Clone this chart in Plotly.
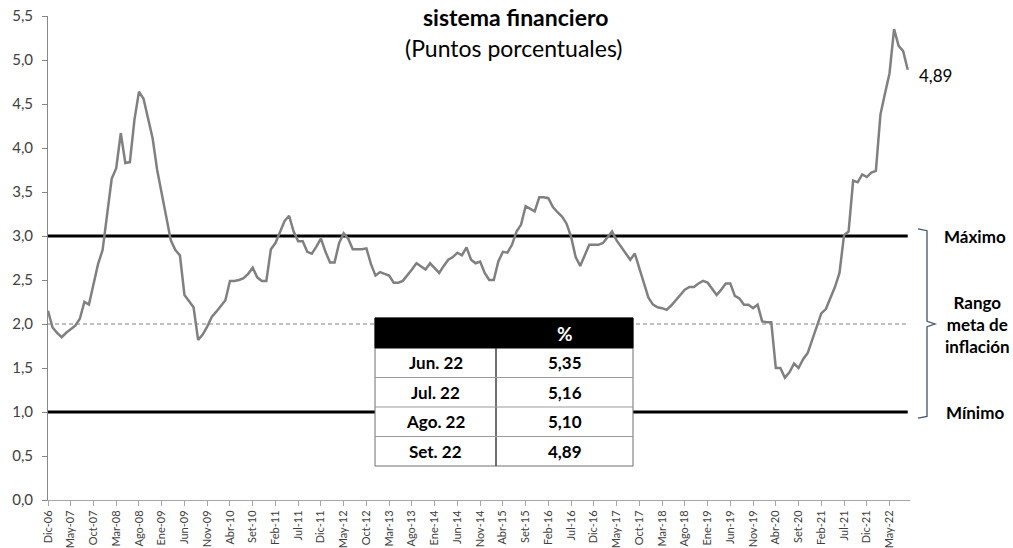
import plotly.graph_objects as go

# ---------------- data ----------------
month_abbr = ["Ene", "Feb", "Mar", "Abr", "May", "Jun", "Jul", "Ago", "Set", "Oct", "Nov", "Dic"]
# monthly categories Dic-06 ... Set-22
categories = [f"{month_abbr[(11 + i) % 12]}-{(6 + (11 + i) // 12):02d}" for i in range(190)]

expectativas = [
    2.15, 1.96, 1.90, 1.85, 1.90, 1.94, 1.98, 2.06, 2.25, 2.22,
    2.46, 2.68, 2.84, 3.25, 3.65, 3.77, 4.17, 3.83, 3.84, 4.32,
    4.64, 4.56, 4.32, 4.11, 3.75, 3.48, 3.20, 2.95, 2.84, 2.78,
    2.33, 2.26, 2.19, 1.82, 1.88, 1.97, 2.08, 2.14, 2.20, 2.27,
    2.49, 2.49, 2.50, 2.52, 2.57, 2.64, 2.53, 2.49, 2.49, 2.85,
    2.92, 3.05, 3.17, 3.23, 3.05, 2.94, 2.94, 2.82, 2.80, 2.88,
    2.97, 2.82, 2.70, 2.70, 2.92, 3.03, 2.97, 2.85, 2.85, 2.85,
    2.86, 2.68, 2.55, 2.59, 2.57, 2.55, 2.47, 2.47, 2.49, 2.55,
    2.62, 2.69, 2.65, 2.62, 2.69, 2.63, 2.58, 2.66, 2.73, 2.76,
    2.81, 2.78, 2.87, 2.73, 2.69, 2.71, 2.58, 2.50, 2.50, 2.71,
    2.82, 2.81, 2.90, 3.05, 3.13, 3.34, 3.31, 3.28, 3.44, 3.44,
    3.43, 3.33, 3.27, 3.22, 3.14, 2.99, 2.76, 2.66, 2.78, 2.90,
    2.90, 2.90, 2.92, 2.98, 3.05, 2.95, 2.88, 2.80, 2.73, 2.80,
    2.63, 2.46, 2.30, 2.22, 2.19, 2.18, 2.16, 2.21, 2.27, 2.33,
    2.39, 2.42, 2.42, 2.46, 2.49, 2.47, 2.40, 2.33, 2.39, 2.46,
    2.46, 2.32, 2.29, 2.22, 2.22, 2.18, 2.22, 2.03, 2.02, 2.02,
    1.50, 1.50, 1.39, 1.45, 1.55, 1.50, 1.60, 1.67, 1.82, 1.97,
    2.12, 2.17, 2.29, 2.42, 2.58, 3.01, 3.05, 3.63, 3.61, 3.70,
    3.67, 3.72, 3.74, 4.38, 4.62, 4.85, 5.35, 5.16, 5.10, 4.89,
]

rango_max = 3.0
rango_min = 1.0
meta = 2.0

tick_labels = [
    "Dic-06", "May-07", "Oct-07", "Mar-08", "Ago-08", "Ene-09", "Jun-09", "Nov-09",
    "Abr-10", "Set-10", "Feb-11", "Jul-11", "Dic-11", "May-12", "Oct-12", "Mar-13",
    "Ago-13", "Ene-14", "Jun-14", "Nov-14", "Abr-15", "Set-15", "Feb-16", "Jul-16",
    "Dic-16", "May-17", "Oct-17", "Mar-18", "Ago-18", "Ene-19", "Jun-19", "Nov-19",
    "Abr-20", "Set-20", "Feb-21", "Jul-21", "Dic-21", "May-22",
]
y_ticks = [0.0, 0.5, 1.0, 1.5, 2.0, 2.5, 3.0, 3.5, 4.0, 4.5, 5.0, 5.5]

table_header = "%"
table_months = ["Jun. 22", "Jul. 22", "Ago. 22", "Set. 22"]
table_values = expectativas[-4:]

# ---------------- figure ----------------
FONT = "Lato, 'Open Sans', sans-serif"
W, H = 1013, 548
L, R, T, B = 48, 103, 16, 48
PW, PH = W - L - R, H - T - B


def px_x(px):
    return (px - L) / PW


def px_y(py):
    return (H - B - py) / PH


def fmt(v, d=2):
    return f"{v:.{d}f}".replace(".", ",")


fig = go.Figure()

fig.add_trace(go.Scatter(x=categories, y=[meta] * len(categories), mode="lines",
                         line=dict(color="#808080", width=1, dash="4px,3px"),
                         hoverinfo="skip", showlegend=False))
fig.add_trace(go.Scatter(x=categories, y=[rango_max] * len(categories), mode="lines",
                         line=dict(color="black", width=3), hoverinfo="skip", showlegend=False))
fig.add_trace(go.Scatter(x=categories, y=[rango_min] * len(categories), mode="lines",
                         line=dict(color="black", width=3), hoverinfo="skip", showlegend=False))
fig.add_trace(go.Scatter(x=categories, y=expectativas, mode="lines",
                         line=dict(color="#808080", width=2.5), showlegend=False))

# ---- table drawn with shapes/annotations ----
tx0, tx1, tdiv = 375, 633, 496
ty0, thead, trow = 318, 30, 29.5
ty_end = ty0 + thead + trow * len(table_months)
fig.add_shape(type="rect", xref="paper", yref="paper", layer="above",
              x0=px_x(tx0), x1=px_x(tx1), y0=px_y(ty_end), y1=px_y(ty0),
              fillcolor="white", line=dict(color="#6f6f6f", width=1))
fig.add_shape(type="rect", xref="paper", yref="paper", layer="above",
              x0=px_x(tx0), x1=px_x(tx1), y0=px_y(ty0 + thead), y1=px_y(ty0),
              fillcolor="black", line=dict(color="black", width=1))
fig.add_shape(type="line", xref="paper", yref="paper", layer="above",
              x0=px_x(tdiv), x1=px_x(tdiv), y0=px_y(ty_end), y1=px_y(ty0 + thead),
              line=dict(color="#404040", width=1.5))
for i in range(1, len(table_months)):
    yy = ty0 + thead + trow * i
    fig.add_shape(type="line", xref="paper", yref="paper", layer="above",
                  x0=px_x(tx0), x1=px_x(tx1), y0=px_y(yy), y1=px_y(yy),
                  line=dict(color="#9a9a9a", width=1))
fig.add_annotation(text=f"<b>{table_header}</b>", xref="paper", yref="paper",
                   x=px_x((tdiv + tx1) / 2), y=px_y(ty0 + thead / 2),
                   xanchor="center", yanchor="middle", showarrow=False,
                   font=dict(family=FONT, size=19, color="white"))
for i, (m, v) in enumerate(zip(table_months, table_values)):
    yc = ty0 + thead + trow * (i + 0.5)
    fig.add_annotation(text=f"<b>{m}</b>", xref="paper", yref="paper",
                       x=px_x((tx0 + tdiv) / 2), y=px_y(yc), xanchor="center", yanchor="middle",
                       showarrow=False, font=dict(family=FONT, size=17, color="black"))
    fig.add_annotation(text=f"<b>{fmt(v)}</b>", xref="paper", yref="paper",
                       x=px_x((tdiv + tx1) / 2), y=px_y(yc), xanchor="center", yanchor="middle",
                       showarrow=False, font=dict(family=FONT, size=17, color="black"))

# titles
fig.add_annotation(text="<b>sistema financiero</b>", xref="paper", yref="paper",
                   x=px_x(515), y=px_y(17), xanchor="center", yanchor="middle", showarrow=False,
                   font=dict(family=FONT, size=23, color="black"))
fig.add_annotation(text="(Puntos porcentuales)", xref="paper", yref="paper",
                   x=px_x(514), y=px_y(48), xanchor="center", yanchor="middle", showarrow=False,
                   font=dict(family=FONT, size=23, color="black"))

# last value label
fig.add_annotation(text=fmt(expectativas[-1]), x=categories[-1], y=expectativas[-1],
                   xanchor="left", yanchor="middle", xshift=9, yshift=-6, showarrow=False,
                   font=dict(family=FONT, size=17, color="black"))

# right side labels
lab_font = dict(family=FONT, size=17, color="black")
fig.add_annotation(text="<b>Máximo</b>", xref="paper", yref="y", x=px_x(975), y=rango_max,
                   xanchor="center", yanchor="middle", showarrow=False, font=lab_font)
fig.add_annotation(text="<b>Mínimo</b>", xref="paper", yref="y", x=px_x(975), y=rango_min,
                   xanchor="center", yanchor="middle", showarrow=False, font=lab_font)
fig.add_annotation(text="<b>Rango<br>meta de<br>inflación</b>", xref="paper", yref="y",
                   x=px_x(977), y=meta, xanchor="center", yanchor="middle", showarrow=False,
                   font=lab_font)

# bracket
ytop, ybot = rango_max + 0.08, rango_min - 0.07
bx0, bx1, bx2 = px_x(918), px_x(927), px_x(935)
fig.add_shape(type="path", xref="paper", yref="y",
              path=(f"M {bx0} {ytop} L {bx1} {ytop - 0.02} L {bx1} {meta + 0.03} "
                    f"L {bx2} {meta} L {bx1} {meta - 0.03} L {bx1} {ybot + 0.02} L {bx0} {ybot}"),
              line=dict(color="#44546a", width=1.3))

fig.update_layout(
    width=W, height=H,
    margin=dict(l=L, r=R, t=T, b=B, autoexpand=False),
    paper_bgcolor="white", plot_bgcolor="white",
    font=dict(family=FONT, color="#404040"),
    showlegend=False,
    xaxis=dict(type="category", categoryorder="array", categoryarray=categories,
               range=[0, len(categories) - 0.5], automargin=False,
               tickmode="array", tickvals=tick_labels, ticktext=tick_labels,
               tickangle=-90, tickfont=dict(family=FONT, size=11, color="#404040"),
               showgrid=False, zeroline=False, showline=True, linecolor="#a6a6a6",
               linewidth=1, ticks="outside", ticklen=5, tickcolor="#a6a6a6"),
    yaxis=dict(range=[0, 5.5], tickmode="array", tickvals=y_ticks, automargin=False,
               ticktext=[fmt(v, 1) for v in y_ticks], ticklabelstandoff=6,
               tickfont=dict(family=FONT, size=15, color="#404040"),
               showgrid=False, zeroline=False, showline=True, linecolor="#868686",
               linewidth=1, ticks="outside", ticklen=5, tickcolor="#868686"),
)

fig.write_html("out.html", config={"displayModeBar": False},
               post_script="document.body.style.margin='0';document.body.style.overflow='hidden';")
